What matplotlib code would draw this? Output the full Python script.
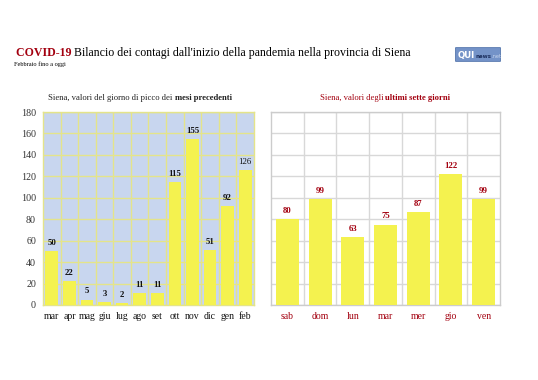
import matplotlib
matplotlib.use("Agg")
import matplotlib.pyplot as plt
from matplotlib.patches import FancyBboxPatch

# ---- data ----
months = ["mar", "apr", "mag", "giu", "lug", "ago", "set", "ott", "nov", "dic", "gen", "feb"]
month_peaks = [50, 22, 5, 3, 2, 11, 11, 115, 155, 51, 92, 126]
days = ["sab", "dom", "lun", "mar", "mer", "gio", "ven"]
day_values = [80, 99, 63, 75, 87, 122, 99]
y_ticks = [0, 20, 40, 60, 80, 100, 120, 140, 160, 180]

SERIF = ["Liberation Serif", "DejaVu Serif"]
plt.rcParams["font.family"] = SERIF

DARKRED = "#a3000f"
YELLOW = "#f4f24f"
W, H = 538, 380
fig = plt.figure(figsize=(W / 100, H / 100), dpi=100)
fig.patch.set_facecolor("white")
renderer = fig.canvas.get_renderer()


def px(x, y):
    return x / W, 1 - y / H


def text_parts(x, y, parts, ha="left", va="baseline"):
    """parts: list of (text, dict of kwargs). x,y in pixels."""
    objs = []
    for t, kw in parts:
        objs.append(fig.text(0, 0, t, va=va, **kw))
    widths = [o.get_window_extent(renderer).width for o in objs]
    total = sum(widths)
    start = x if ha == "left" else x - total / 2
    cur = start
    for o, w in zip(objs, widths):
        o.set_position(px(cur, y))
        cur += w
    return objs


# ---- header ----
text_parts(16, 56, [("COVID-19 ", dict(fontsize=8.6, fontweight="bold", color=DARKRED)),
                    ("Bilancio dei contagi dall'inizio della pandemia nella provincia di Siena",
                     dict(fontsize=8.6, color="black"))])
fig.text(*px(14, 66), "Febbraio fino a oggi", fontsize=4.6, color="black", va="baseline")

# logo
logo = FancyBboxPatch(px(456, 61), 44 / W, 13 / H, boxstyle="round,pad=0.001",
                      transform=fig.transFigure, facecolor="#7493c8", edgecolor="#5576ad", lw=0.6)
fig.patches.append(logo)
text_parts(458, 58, [("QUI", dict(fontsize=6.2, fontweight="bold", color="white",
                                  family=["DejaVu Sans"])),
                     ("news", dict(fontsize=4.0, fontweight="bold", color="#1c2f5e",
                                   family=["DejaVu Sans"])),
                     (".net", dict(fontsize=3.6, color="#c9d6ee", family=["DejaVu Sans"]))])

# ---- left chart ----
axL = fig.add_axes([43 / W, 1 - 305 / H, 211 / W, 193 / H])
axL.set_facecolor("#c8d6ef")
xl = range(len(months))
barsL = axL.bar(xl, month_peaks, width=0.72, color=YELLOW, zorder=3)
axL.set_xlim(-0.5, len(months) - 0.5)
axL.set_ylim(0, 180)
axL.set_yticks(y_ticks)
axL.set_xticks(list(xl))
axL.set_xticklabels(months)
axL.set_xticks([i + 0.5 for i in range(len(months) - 1)], minor=True)
axL.grid(True, which="major", axis="y", color="#e4e48a", lw=1.0, zorder=1)
axL.grid(True, which="minor", axis="x", color="#e4e48a", lw=1.0, zorder=1)
axL.tick_params(which="both", length=0)
axL.tick_params(axis="y", labelsize=7.2, labelcolor="#333333", pad=5)
axL.tick_params(axis="x", labelsize=7, labelcolor="#111111", pad=5)
for s in axL.spines.values():
    s.set_color("#e4e48a")
    s.set_linewidth(1.0)
for i, (b, v) in enumerate(zip(barsL, month_peaks)):
    axL.annotate(str(v), (b.get_x() + b.get_width() / 2, v), xytext=(0, 3),
                 textcoords="offset points", ha="center", va="bottom",
                 fontsize=6.3, fontweight="normal" if i == len(month_peaks) - 1 else "bold",
                 color="#111111", zorder=4)

text_parts(140, 100, [("Siena, valori del giorno di picco dei ", dict(fontsize=6.2, color="#222222")),
                      ("mesi precedenti", dict(fontsize=6.2, fontweight="bold", color="#222222"))],
           ha="center")

# ---- right chart ----
axR = fig.add_axes([271 / W, 1 - 305 / H, 229 / W, 193 / H])
axR.set_facecolor("white")
xr = range(len(days))
barsR = axR.bar(xr, day_values, width=0.70, color=YELLOW, zorder=3)
axR.set_xlim(-0.5, len(days) - 0.5)
axR.set_ylim(0, 180)
axR.set_yticks(y_ticks)
axR.set_yticklabels([])
axR.set_xticks(list(xr))
axR.set_xticklabels(days)
axR.set_xticks([i + 0.5 for i in range(len(days) - 1)], minor=True)
axR.grid(True, which="major", axis="y", color="#d8d8d8", lw=1.0, zorder=1)
axR.grid(True, which="minor", axis="x", color="#d8d8d8", lw=1.0, zorder=1)
axR.tick_params(which="both", length=0)
axR.tick_params(axis="x", labelsize=7, labelcolor=DARKRED, pad=5)
for s in axR.spines.values():
    s.set_color("#cccccc")
    s.set_linewidth(1.0)
for b, v in zip(barsR, day_values):
    axR.annotate(str(v), (b.get_x() + b.get_width() / 2, v), xytext=(0, 3),
                 textcoords="offset points", ha="center", va="bottom",
                 fontsize=6.3, fontweight="bold", color=DARKRED, zorder=4)

text_parts(385, 100, [("Siena, valori degli ", dict(fontsize=6.2, color=DARKRED)),
                      ("ultimi sette giorni", dict(fontsize=6.2, fontweight="bold", color=DARKRED))],
           ha="center")

fig.savefig("out.png", dpi=100, facecolor="white")
